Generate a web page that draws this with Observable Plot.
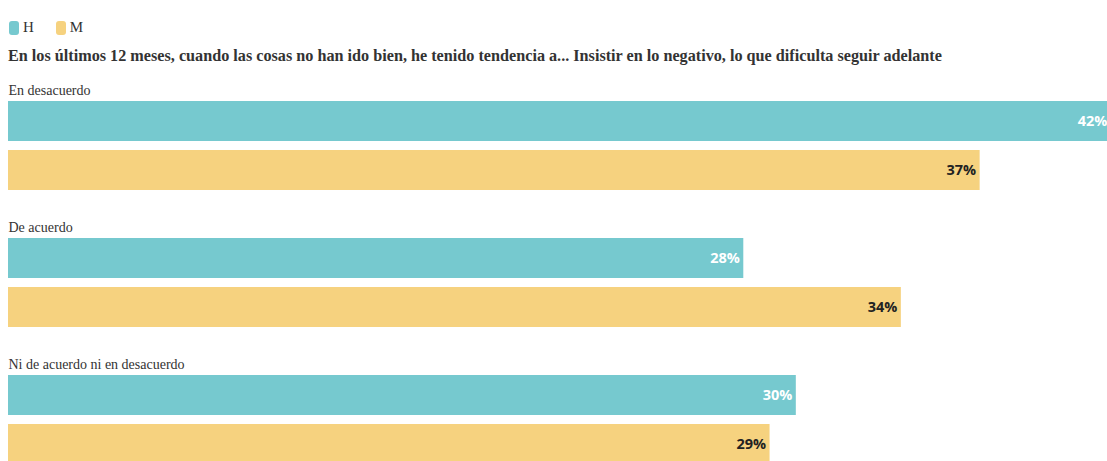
<!DOCTYPE html>
<html>
<head>
<meta charset="utf-8">
<script src="https://cdn.jsdelivr.net/npm/d3@7"></script>
<script src="https://cdn.jsdelivr.net/npm/@observablehq/plot@0.6"></script>
<style>
  html, body { margin: 0; padding: 0; overflow: hidden; background: #fff; }
  body { width: 1107px; height: 461px; position: relative; font-family: "Liberation Serif", serif; color: #333; }
  #legend { position: absolute; left: 9px; top: 19px; display: flex; align-items: center; font-size: 15px; }
  .item { display: flex; align-items: center; margin-right: 22px; }
  .sw { width: 10px; height: 14px; border-radius: 3px; margin-right: 4px; }
  #title { position: absolute; left: 8px; top: 47px; font-size: 16.2px; font-weight: bold; white-space: nowrap; color: #333; }
  #chart { position: absolute; left: 0; top: 70px; }
</style>
</head>
<body>
<div id="legend"></div>
<div id="title"></div>
<div id="chart"></div>
<script>
const titleText = "En los últimos 12 meses, cuando las cosas no han ido bien, he tenido tendencia a... Insistir en lo negativo, lo que dificulta seguir adelante";
const categories = ["En desacuerdo", "De acuerdo", "Ni de acuerdo ni en desacuerdo"];
const series = ["H", "M"];
const valuesH = [42, 28, 30];
const valuesM = [37, 34, 29];
const colors = ["#76c9cf", "#f6d27f"];
const labelColors = ["#ffffff", "#222222"];

const data = [];
categories.forEach((c, i) => {
  data.push({category: c, series: "H", value: valuesH[i]});
  data.push({category: c, series: "M", value: valuesM[i]});
});

document.getElementById("title").textContent = titleText;
const legend = document.getElementById("legend");
series.forEach((s, i) => {
  const it = document.createElement("div");
  it.className = "item";
  const sw = document.createElement("div");
  sw.className = "sw";
  sw.style.background = colors[i];
  const t = document.createElement("span");
  t.textContent = s;
  it.appendChild(sw); it.appendChild(t);
  legend.appendChild(it);
});

const chart = Plot.plot({
  width: 1107,
  height: 397,
  marginLeft: 8,
  marginRight: 0,
  marginTop: 30,
  marginBottom: 0,
  x: {domain: [0, 41.85], axis: null},
  y: {domain: series, paddingInner: 0.18, paddingOuter: 0, axis: null},
  fy: {domain: categories, paddingInner: 0.34, paddingOuter: 0, axis: null},
  color: {domain: series, range: colors},
  marks: [
    Plot.barX(data, {x: "value", y: "series", fy: "category", fill: "series"}),
    Plot.text(data, {
      x: "value", y: "series", fy: "category",
      text: d => d.value + "%",
      textAnchor: "end", dx: -4,
      fill: d => labelColors[series.indexOf(d.series)],
      fontFamily: "'Open Sans', sans-serif", fontWeight: "bold", fontSize: 14.5
    }),
    Plot.text(categories, {
      fy: d => d, text: d => d,
      frameAnchor: "top-left", textAnchor: "start", lineAnchor: "bottom", dy: -7,
      fill: "#333", fontFamily: "'Liberation Serif', serif", fontSize: 14
    })
  ]
});
document.getElementById("chart").appendChild(chart);
</script>
</body>
</html>
